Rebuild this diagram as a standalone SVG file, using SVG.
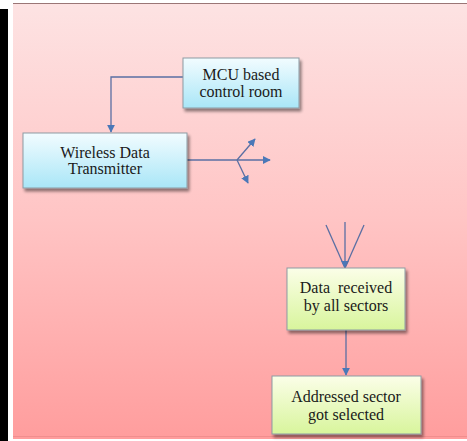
<svg xmlns="http://www.w3.org/2000/svg" width="467" height="441" viewBox="0 0 467 441">
  <defs>
    <linearGradient id="bg" x1="0" y1="0" x2="0" y2="1">
      <stop offset="0" stop-color="#fde3e3"/>
      <stop offset="0.5" stop-color="#ffc4c4"/>
      <stop offset="1" stop-color="#ff9d9d"/>
    </linearGradient>
    <linearGradient id="blue" x1="0" y1="0" x2="0" y2="1">
      <stop offset="0" stop-color="#f2fcff"/>
      <stop offset="1" stop-color="#a9e6f7"/>
    </linearGradient>
    <linearGradient id="green" x1="0" y1="0" x2="0" y2="1">
      <stop offset="0" stop-color="#fbfee8"/>
      <stop offset="1" stop-color="#d8f59c"/>
    </linearGradient>
    <filter id="shadow" x="-10%" y="-10%" width="130%" height="140%">
      <feGaussianBlur in="SourceAlpha" stdDeviation="1.5"/>
      <feOffset dx="2" dy="3"/>
      <feComponentTransfer><feFuncA type="linear" slope="0.45"/></feComponentTransfer>
      <feMerge><feMergeNode/><feMergeNode in="SourceGraphic"/></feMerge>
    </filter>
    <marker id="arrowL" viewBox="0 0 10 10" refX="9" refY="5" markerWidth="8" markerHeight="8" orient="auto" markerUnits="userSpaceOnUse">
      <path d="M0,0 L10,5 L0,10 z" fill="#4a78b8"/>
    </marker>
  </defs>
  <style>
    .box { stroke: #8d9ba3; stroke-width: 1; filter: url(#shadow); }
    text { font-family: 'Liberation Serif', serif; font-size: 16px; fill: #1a1a1a; text-anchor: middle; }
    .wire { fill: none; stroke: #5a6fa3; stroke-width: 1.3; }
  </style>

  <!-- page frame -->
  <rect x="0" y="0" width="467" height="441" fill="#ffffff"/>
  <rect x="0" y="9" width="8" height="432" fill="#000000"/>
  <rect x="13" y="3" width="454" height="436" fill="url(#bg)"/>
  <line x1="13" y1="3.5" x2="467" y2="3.5" stroke="#9a7676" stroke-width="1.2"/>
  <line x1="13" y1="436.5" x2="467" y2="436.5" stroke="#f08e8e" stroke-width="1"/>

  <!-- connectors -->
  <g id="connectors">
    <polyline class="wire" points="183,77 111,77 111,132" marker-end="url(#arrowL)"/>
    <line class="wire" x1="187" y1="160" x2="237" y2="160"/>
    <line class="wire" x1="237" y1="160" x2="255" y2="139" marker-end="url(#arrowL)"/>
    <line class="wire" x1="237" y1="160" x2="270" y2="160" marker-end="url(#arrowL)"/>
    <line class="wire" x1="237" y1="160" x2="248" y2="183" marker-end="url(#arrowL)"/>
    <line class="wire" x1="326" y1="225" x2="345" y2="268"/>
    <line class="wire" x1="345" y1="222" x2="345" y2="268" marker-end="url(#arrowL)"/>
    <line class="wire" x1="364" y1="225" x2="345" y2="268"/>
    <line class="wire" x1="346" y1="330" x2="346" y2="375" marker-end="url(#arrowL)"/>
  </g>

  <!-- nodes -->
  <g id="mcu">
    <rect class="box" x="183" y="58" width="116" height="50" fill="url(#blue)"/>
    <text x="241" y="80">MCU based</text>
    <text x="241" y="97">control room</text>
  </g>
  <g id="transmitter">
    <rect class="box" x="23" y="133" width="164" height="55" fill="url(#blue)"/>
    <text x="105" y="158">Wireless Data</text>
    <text x="105" y="174">Transmitter</text>
  </g>
  <g id="received">
    <rect class="box" x="287" y="268" width="118" height="62" fill="url(#green)"/>
    <text x="346" y="293" xml:space="preserve">Data  received</text>
    <text x="346" y="311">by all sectors</text>
  </g>
  <g id="selected">
    <rect class="box" x="272" y="376" width="149" height="58" fill="url(#green)"/>
    <text x="346" y="402">Addressed sector</text>
    <text x="346" y="420">got selected</text>
  </g>
</svg>
